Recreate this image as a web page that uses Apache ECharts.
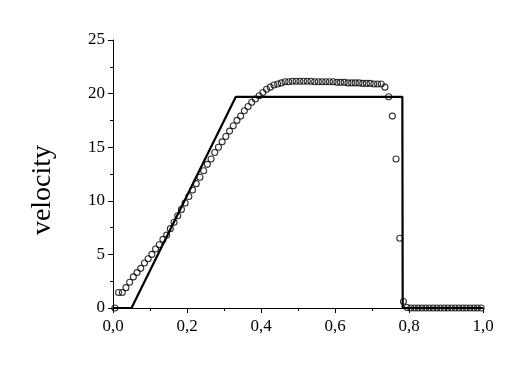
<!DOCTYPE html>
<html>
<head>
<meta charset="utf-8">
<script src="https://cdn.jsdelivr.net/npm/echarts@6/dist/echarts.min.js"></script>
<style>
  html, body { margin: 0; padding: 0; background: #fff; }
  #main { width: 523px; height: 368px; }
</style>
</head>
<body>
<div id="main"></div>
<script>
// 折线（解析解）
var lineX = [0, 0.05, 0.332, 0.782, 0.783, 1.0];
var lineY = [0, 0, 19.7, 19.7, 0, 0];

// 圆圈（数值解），每个单元中心
var pointY = [
  0, 1.45, 1.45, 1.9, 2.4, 2.9, 3.3, 3.7, 4.2, 4.6,
  5.0, 5.5, 5.9, 6.4, 6.8, 7.4, 8.0, 8.6, 9.2, 9.8,
  10.4, 11.0, 11.6, 12.2, 12.8, 13.4, 13.9, 14.5, 15.0, 15.5,
  16.0, 16.5, 17.0, 17.5, 17.9, 18.4, 18.8, 19.2, 19.5, 19.8,
  20.1, 20.4, 20.6, 20.8, 20.9, 21.0, 21.1, 21.1, 21.15, 21.15,
  21.15, 21.15, 21.15, 21.15, 21.1, 21.1, 21.1, 21.1, 21.1, 21.1,
  21.05, 21.05, 21.05, 21.0, 21.0, 21.0, 21.0, 20.95, 20.95, 20.95,
  20.9, 20.9, 20.9, 20.6, 19.7, 17.9, 13.9, 6.5, 0.6, 0.05,
  0, 0, 0, 0, 0, 0, 0, 0, 0, 0,
  0, 0, 0, 0, 0, 0, 0, 0, 0, 0
];
var pointX = [];
for (var i = 0; i < pointY.length; i++) {
  pointX.push(+(0.005 + i * 0.01).toFixed(3));
}

var xTicks = { min: 0, max: 1, interval: 0.2 };
var yTicks = { min: 0, max: 25, interval: 5 };

function pairs(xs, ys) {
  var out = [];
  for (var k = 0; k < xs.length; k++) out.push([xs[k], ys[k]]);
  return out;
}

var myChart = echarts.init(document.getElementById('main'));
var font = 'Liberation Serif';

var option = {
  backgroundColor: '#fff',
  animation: false,
  grid: { left: 113, right: 40, top: 40, bottom: 60 },
  xAxis: {
    type: 'value',
    min: xTicks.min, max: xTicks.max, interval: xTicks.interval,
    axisLine: { lineStyle: { color: '#000', width: 1 } },
    axisTick: { length: 5, lineStyle: { color: '#000' } },
    minorTick: { show: true, splitNumber: 2, length: 3, lineStyle: { color: '#000' } },
    splitLine: { show: false },
    axisLabel: {
      color: '#000', fontFamily: font, fontSize: 17, margin: 10,
      formatter: function (v) { return v.toFixed(1).replace('.', ','); }
    }
  },
  yAxis: {
    type: 'value',
    min: yTicks.min, max: yTicks.max, interval: yTicks.interval,
    name: 'velocity',
    nameLocation: 'middle',
    nameGap: 56,
    nameTextStyle: { color: '#000', fontFamily: font, fontSize: 28, padding: [0, 32, 0, 0] },
    axisLine: { show: true, lineStyle: { color: '#000', width: 1 } },
    axisTick: { show: true, length: 5, lineStyle: { color: '#000' } },
    minorTick: { show: true, splitNumber: 2, length: 3, lineStyle: { color: '#000' } },
    splitLine: { show: false },
    axisLabel: { color: '#000', fontFamily: font, fontSize: 17, margin: 8 }
  },
  series: [
    {
      name: 'exact',
      type: 'line',
      data: pairs(lineX, lineY),
      showSymbol: false,
      lineStyle: { color: '#000', width: 2.2 },
      z: 2
    },
    {
      name: 'numeric',
      type: 'scatter',
      data: pairs(pointX, pointY),
      symbol: 'circle',
      symbolSize: 6,
      itemStyle: { color: 'rgba(255,255,255,0)', borderColor: '#000', borderWidth: 1.1 },
      z: 3
    }
  ]
};

myChart.setOption(option);
</script>
</body>
</html>
